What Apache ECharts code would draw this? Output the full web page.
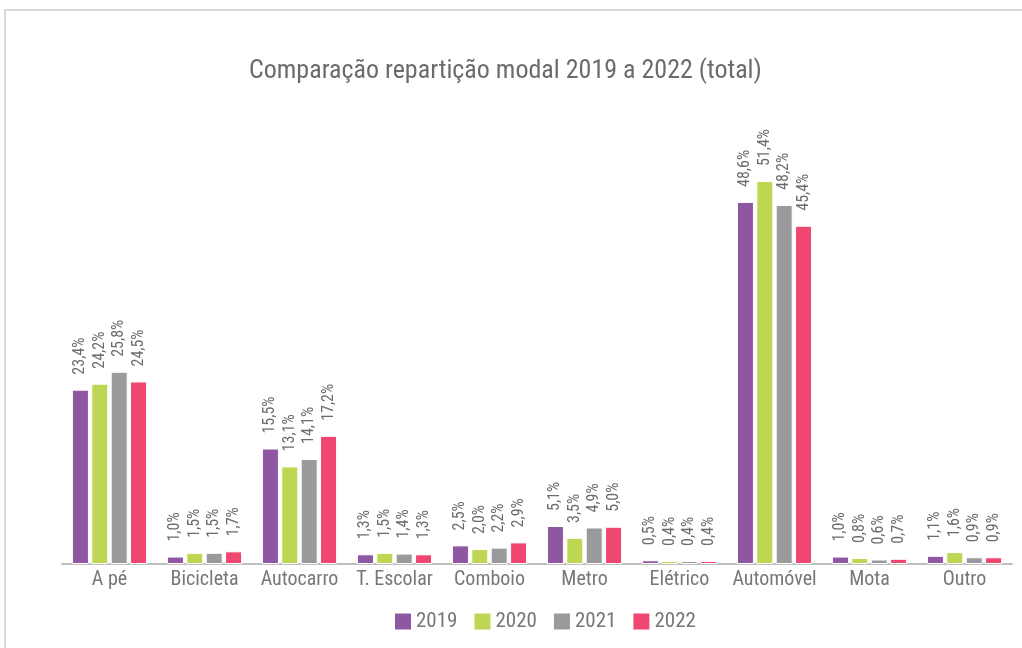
<!DOCTYPE html>
<html><head><meta charset="utf-8">
<script src="https://cdn.jsdelivr.net/npm/echarts@6/dist/echarts.min.js"></script>
<style>html,body{margin:0;padding:0;background:#fff}#c{width:1022px;height:648px}</style>
</head><body><div id="c"></div>
<script>
const categories = ['A pé','Bicicleta','Autocarro','T. Escolar','Comboio','Metro','Elétrico','Automóvel','Mota','Outro'];
const years = ['2019','2020','2021','2022'];
const v2019 = [23.4,1.0,15.5,1.3,2.5,5.1,0.5,48.6,1.0,1.1];
const v2020 = [24.2,1.5,13.1,1.5,2.0,3.5,0.4,51.4,0.8,1.6];
const v2021 = [25.8,1.5,14.1,1.4,2.2,4.9,0.4,48.2,0.6,0.9];
const v2022 = [24.5,1.7,17.2,1.3,2.9,5.0,0.4,45.4,0.7,0.9];
const values = [v2019,v2020,v2021,v2022];
const colors = ['#8f56a1','#bdd752','#9a9a9c','#ef476f'];
const FF = "'Liberation Sans Narrow','Roboto Condensed','DejaVu Sans Condensed',sans-serif";
const chart = echarts.init(document.getElementById('c'));
chart.setOption({
  animation:false,
  textStyle:{fontFamily:FF},
  graphic:[{type:'rect',shape:{x:5,y:10,width:1040,height:660},style:{fill:'none',stroke:'#d9d9d9',lineWidth:2},silent:true}],
  title:{text:'Comparação repartição modal 2019 a 2022 (total)',left:244,top:53,
    textStyle:{fontFamily:FF,fontSize:26,fontWeight:'normal',color:'#6b6b6b'}},
  legend:{data:years,left:390,top:606,itemWidth:16,itemHeight:16,itemGap:17,itemStyle:{borderWidth:0},icon:'rect',
    textStyle:{fontFamily:FF,fontSize:21,color:'#777'}},
  grid:{left:62,right:10,top:117,bottom:84},
  xAxis:{type:'category',data:categories,axisLine:{lineStyle:{color:'#bfbfbf',width:2}},axisTick:{show:false},
    axisLabel:{interval:0,fontFamily:FF,fontSize:20,color:'#777',margin:6}},
  yAxis:{type:'value',min:0,max:60,show:false,splitLine:{show:false}},
  series: years.map((y,i)=>({name:y,type:'bar',data:values[i],barWidth:17,barGap:'14%',
    itemStyle:{color:colors[i],borderColor:'#fff',borderWidth:1},
    label:{show:true,position:'top',rotate:90,align:'left',verticalAlign:'middle',distance:15,
      fontFamily:FF,fontSize:16,color:'#6b6b6b',
      formatter:p=>p.value.toFixed(1).replace('.',',')+'%'}}))
});
</script></body></html>
